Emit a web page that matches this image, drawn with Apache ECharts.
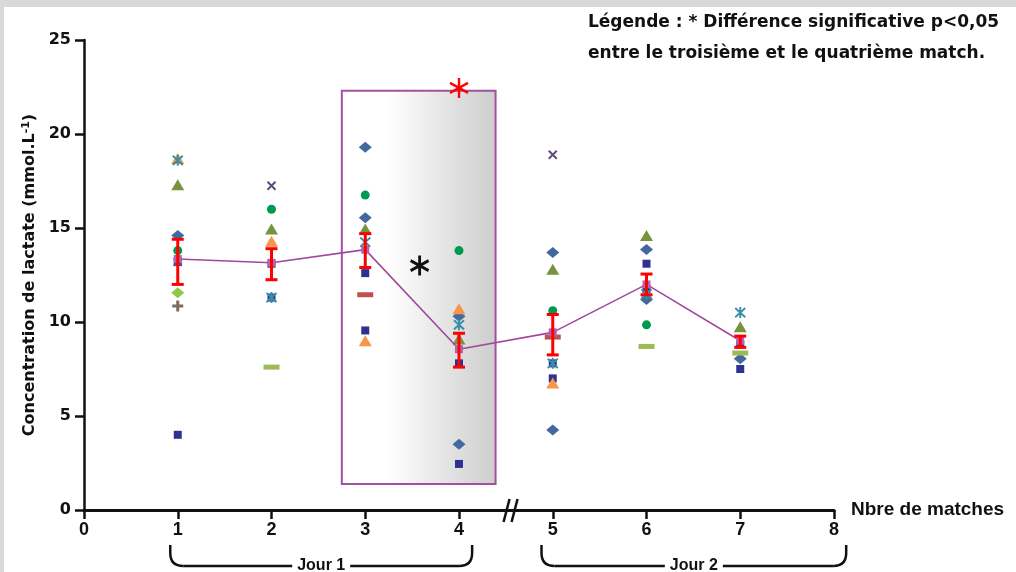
<!DOCTYPE html>
<html>
<head>
    <meta charset="UTF-8">
    <title>Lactate</title>
    <style>
        body { margin: 0; background: #d9d9d9; }
        #main { position: absolute; left: 4px; top: 7px; width: 1012px; height: 565px; background: #fff; }
    </style>
</head>
<body>
<div id="main"></div>
<script type="text/javascript" src="https://cdn.jsdelivr.net/npm/echarts@6/dist/echarts.min.js"></script>
<script type="text/javascript">
    // moyennes et barres d'erreur par match
    var matches = [1, 2, 3, 4, 5, 6, 7];
    var meanValues = [13.35, 13.15, 13.85, 8.55, 9.45, 12.0, 9.0];
    var errLow = [12.0, 12.25, 12.9, 7.6, 8.25, 11.45, 8.65];
    var errHigh = [14.4, 13.9, 14.7, 9.4, 10.4, 12.55, 9.25];

    // valeurs individuelles : [match, lactate]
    var blueDiamond = [[1, 14.6], [3, 19.3], [3, 15.55], [4, 10.3], [4, 3.5], [5, 13.7], [5, 4.25], [6, 13.85], [6, 11.2], [7, 8.05]];
    var navySquare = [[1, 13.2], [1, 4.0], [2, 13.1], [2, 11.3], [3, 12.6], [3, 9.55], [4, 7.8], [4, 2.45], [5, 7.8], [5, 7.0], [6, 13.1], [6, 11.75], [7, 8.8], [7, 7.5]];
    var greenCircle = [[1, 13.8], [2, 16.0], [3, 16.75], [4, 13.8], [5, 10.6], [6, 9.85]];
    var oliveTriangle = [[1, 17.3], [2, 14.95], [3, 14.95], [4, 9.1], [5, 12.8], [6, 14.6], [7, 9.75]];
    var orangeTriangle = [[1, 18.7], [2, 14.3], [3, 9.0], [4, 10.7], [5, 6.75]];
    var tealStar = [[1, 18.6], [2, 11.3], [3, 14.25], [4, 9.85], [5, 7.8], [6, 11.5], [7, 10.5]];
    var purpleCross = [[1, 13.2], [2, 17.25], [5, 18.9]];
    var limeDiamond = [[1, 11.55]];
    var brownPlus = [[1, 10.85]];
    var limeDash = [[2, 7.6], [6, 8.7], [7, 8.35]];
    var redDash = [[3, 11.45], [5, 9.2]];

    // zone grisée (matches 3 et 4) et astérisques
    var zone = [[2.75, 1.38], [4.39, 22.3]];
    var blackStar = [[3.58, 13.0]];
    var redStar = [[4.0, 22.45]];

    var xMin = 0, xMax = 8, yMin = 0, yMax = 25, yStep = 5;

    var crossPath = 'path://M0,0L10,10M10,0L0,10';
    var plusPath = 'path://M5,0L5,10M0,5L10,5';
    var starPath = 'path://M0,0L10,10M10,0L0,10M5,-1L5,11';
    var asteriskPath = 'path://M5,0L5,10M0.67,2.5L9.33,7.5M0.67,7.5L9.33,2.5';

    function filled(name, data, symbol, size, color) {
        return { name: name, type: 'scatter', data: data, symbol: symbol, symbolSize: size, z: 3,
            itemStyle: { color: color, opacity: 1 } };
    }
    function stroked(name, data, symbol, size, color, w) {
        return { name: name, type: 'scatter', data: data, symbol: symbol, symbolSize: size, z: 3,
            itemStyle: { color: 'transparent', borderColor: color, borderWidth: w, opacity: 1 } };
    }

    var boldFont = '"DejaVu Sans", sans-serif';
    var narrowFont = '"Liberation Sans Narrow", "Liberation Sans", sans-serif';

    var myChart = echarts.init(document.getElementById('main'));
    var option = {
        animation: false,
        title: {
            text: 'Légende : * Différence significative p<0,05\nentre le troisième et le quatrième match.',
            left: 579, top: -5,
            textStyle: { fontFamily: boldFont, fontWeight: 'bold', fontSize: 17, lineHeight: 31, color: '#111' }
        },
        grid: { left: 80, top: 33, width: 750, height: 470, outerBoundsMode: 'none', containLabel: false },
        xAxis: {
            type: 'value', min: xMin, max: xMax, interval: 1,
            name: 'Nbre de matches', nameLocation: 'end', nameGap: 17,
            nameTextStyle: { fontFamily: narrowFont, fontWeight: 'bold', fontSize: 19, color: '#111', verticalAlign: 'middle' },
            splitLine: { show: false },
            axisLine: { lineStyle: { color: '#111', width: 3 } },
            axisTick: { length: 9, lineStyle: { color: '#111', width: 2.5 } },
            axisLabel: { fontFamily: narrowFont, fontWeight: 'bold', fontSize: 18, color: '#111', margin: 11 }
        },
        yAxis: {
            type: 'value', min: yMin, max: yMax, interval: yStep,
            name: '{a|Concentration de lactate (mmol.L}{s|-1}{a|)}',
            nameLocation: 'middle', nameRotate: 90, nameGap: 42,
            nameTextStyle: {
                rich: {
                    a: { fontFamily: boldFont, fontWeight: 'bold', fontSize: 16, color: '#111' },
                    s: { fontFamily: boldFont, fontWeight: 'bold', fontSize: 11, color: '#111', verticalAlign: 'top', padding: [0, 0, 8, 0] }
                }
            },
            splitLine: { show: false },
            axisLine: { lineStyle: { color: '#111', width: 2.5 } },
            axisTick: { length: 9, lineStyle: { color: '#111', width: 2.5 } },
            axisLabel: { fontFamily: boldFont, fontWeight: 'bold', fontSize: 16, color: '#111', margin: 13 }
        },
        series: [
            {
                name: 'zone', type: 'scatter', data: [], z: 1,
                markArea: {
                    silent: true,
                    label: { show: false },
                    itemStyle: {
                        color: new echarts.graphic.LinearGradient(0, 0, 1, 0, [
                            { offset: 0, color: '#ffffff' },
                            { offset: 0.3, color: '#ffffff' },
                            { offset: 1, color: '#cdcdcd' }
                        ]),
                        borderColor: '#a4509e', borderWidth: 2
                    },
                    data: [[{ coord: zone[0] }, { coord: zone[1] }]]
                }
            },
            filled('blueDiamond', blueDiamond, 'diamond', [13, 11], '#41699f'),
            filled('navySquare', navySquare, 'rect', 8, '#2e3192'),
            filled('greenCircle', greenCircle, 'circle', 9, '#009a4e'),
            filled('oliveTriangle', oliveTriangle, 'triangle', [13, 11], '#77933c'),
            filled('orangeTriangle', orangeTriangle, 'triangle', [13, 11], '#f79646'),
            stroked('tealStar', tealStar, starPath, [10, 11], '#3a8fa6', 2),
            stroked('purpleCross', purpleCross, crossPath, 8, '#5f4b7d', 2),
            filled('limeDiamond', limeDiamond, 'diamond', [13, 11], '#92c84a'),
            stroked('brownPlus', brownPlus, plusPath, 11, '#7f6a5c', 3),
            filled('limeDash', limeDash, 'rect', [16, 5], '#9bbb59'),
            filled('redDash', redDash, 'rect', [16, 5], '#c0504d'),
            {
                name: 'moyenne', type: 'line', z: 4,
                data: matches.map(function (m, i) { return [m, meanValues[i]]; }),
                symbol: 'rect', symbolSize: 8,
                lineStyle: { color: '#a3479d', width: 1.6 },
                itemStyle: { color: '#b563ae' }
            },
            {
                name: 'erreur', type: 'custom', z: 5,
                data: matches.map(function (m, i) { return [m, errLow[i], errHigh[i]]; }),
                renderItem: function (params, api) {
                    var lo = api.coord([api.value(0), api.value(1)]);
                    var hi = api.coord([api.value(0), api.value(2)]);
                    var cap = 6;
                    var style = { stroke: '#ff0000', lineWidth: 3 };
                    return {
                        type: 'group',
                        children: [
                            { type: 'line', shape: { x1: lo[0], y1: lo[1], x2: hi[0], y2: hi[1] }, style: style },
                            { type: 'line', shape: { x1: lo[0] - cap, y1: lo[1], x2: lo[0] + cap, y2: lo[1] }, style: style },
                            { type: 'line', shape: { x1: hi[0] - cap, y1: hi[1], x2: hi[0] + cap, y2: hi[1] }, style: style }
                        ]
                    };
                }
            },
            stroked('blackStar', blackStar, asteriskPath, [18, 20], '#111', 3),
            stroked('redStar', redStar, asteriskPath, [18, 20], '#ff0000', 2.5)
        ]
    };
    myChart.setOption(option);

    // accolades "Jour 1" / "Jour 2" et coupure d'axe
    function px(x, y) { return myChart.convertToPixel({ gridIndex: 0 }, [x, y]); }
    var brackets = [{ from: 0.92, to: 4.14, label: 'Jour 1' }, { from: 4.88, to: 8.13, label: 'Jour 2' }];
    var base = px(0, 0)[1];
    var y0 = base + 35, y1 = base + 56, r = 13;
    var pen = { stroke: '#111', lineWidth: 2.5, fill: null };
    var graphics = [];
    brackets.forEach(function (b) {
        var xa = px(b.from, 0)[0], xb = px(b.to, 0)[0];
        graphics.push({ type: 'line', z: 10, shape: { x1: xa, y1: y0, x2: xa, y2: y1 - r }, style: pen });
        graphics.push({ type: 'line', z: 10, shape: { x1: xb, y1: y0, x2: xb, y2: y1 - r }, style: pen });
        graphics.push({ type: 'line', z: 10, shape: { x1: xa + r, y1: y1, x2: xb - r, y2: y1 }, style: pen });
        graphics.push({ type: 'bezierCurve', z: 10, shape: { x1: xa, y1: y1 - r, cpx1: xa, cpy1: y1, x2: xa + r, y2: y1 }, style: pen });
        graphics.push({ type: 'bezierCurve', z: 10, shape: { x1: xb, y1: y1 - r, cpx1: xb, cpy1: y1, x2: xb - r, y2: y1 }, style: pen });
        graphics.push({
            type: 'text', z: 11, x: (xa + xb) / 2, y: y1,
            style: { text: b.label, fill: '#111', font: 'bold 16px ' + narrowFont, align: 'center', verticalAlign: 'middle',
                backgroundColor: '#fff', padding: [2, 5] }
        });
    });
    var brk = px(4.55, 0);
    graphics.push({ type: 'line', z: 10, shape: { x1: brk[0] - 7, y1: brk[1] + 12, x2: brk[0] - 1, y2: brk[1] - 11 }, style: { stroke: '#111', lineWidth: 2.5 } });
    graphics.push({ type: 'line', z: 10, shape: { x1: brk[0] + 1, y1: brk[1] + 12, x2: brk[0] + 7, y2: brk[1] - 11 }, style: { stroke: '#111', lineWidth: 2.5 } });
    myChart.setOption({ graphic: graphics });
</script>
</body>
</html>
